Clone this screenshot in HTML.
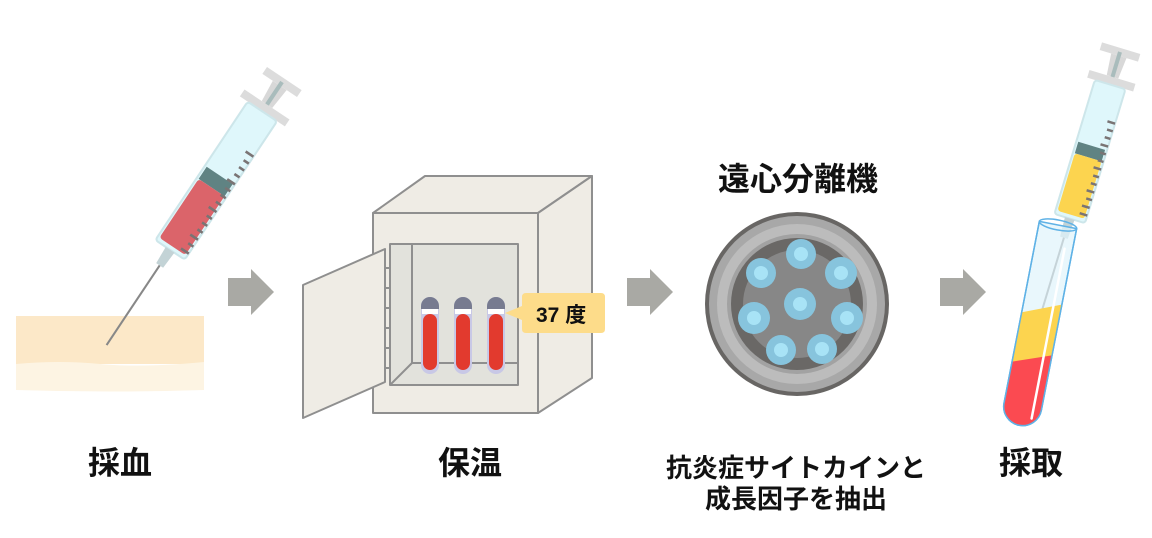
<!DOCTYPE html>
<html><head><meta charset="utf-8"><style>
body{margin:0;background:#fff;}
svg{display:block;}
text{font-family:"Liberation Sans","Noto Sans CJK JP",sans-serif;fill:#111;}
</style></head><body>
<svg width="1152" height="538" viewBox="0 0 1152 538">
<!-- skin -->
<rect x="16" y="316" width="188" height="48" fill="#fce8c8"/>
<path d="M16 364 Q60 360 100 364 T204 362 L204 390 Q110 393 16 390Z" fill="#fdf4e3"/>
<!-- syringe 1 -->
<g transform="translate(282,82) rotate(33.7) scale(1.04)">
<rect x="-20" y="-4" width="40" height="8" fill="#dcdcdc"/>
<polygon points="-8,4 8,4 6,26 -6,26" fill="#d8d8d8"/>
<rect x="-2" y="0" width="4" height="120" fill="#a9bcbc"/>
<rect x="-26" y="26" width="52" height="8" fill="#dcdcdc"/>
<rect x="-17" y="34" width="34" height="160" rx="3" fill="#dff7fb" stroke="#cde6ea" stroke-width="2"/>
<rect x="-15" y="108" width="30" height="14" fill="#608383"/>
<rect x="-15" y="122" width="30" height="68" rx="3" fill="#db646a"/>
<g stroke="#7a7474" stroke-width="2.5">
<line x1="8" y1="75" x2="17" y2="75"/><line x1="11" y1="83" x2="17" y2="83"/><line x1="11" y1="91" x2="17" y2="91"/><line x1="11" y1="99" x2="17" y2="99"/><line x1="8" y1="107" x2="17" y2="107"/><line x1="11" y1="115" x2="17" y2="115"/><line x1="11" y1="123" x2="17" y2="123"/><line x1="11" y1="131" x2="17" y2="131"/><line x1="8" y1="139" x2="17" y2="139"/><line x1="11" y1="147" x2="17" y2="147"/><line x1="11" y1="155" x2="17" y2="155"/><line x1="11" y1="163" x2="17" y2="163"/><line x1="8" y1="171" x2="17" y2="171"/><line x1="11" y1="179" x2="17" y2="179"/><line x1="8" y1="187" x2="17" y2="187"/>
</g>
<polygon points="-5,194 5,194 4,212 -4,212" fill="#c3d3d6"/>
<line x1="0" y1="212" x2="0" y2="304" stroke="#888" stroke-width="2"/>
</g>
<!-- arrows -->
<g fill="#a9a9a4">
<polygon points="228,278 251,278 251,269 274,292 251,315 251,306 228,306"/>
<polygon points="627,278 650,278 650,269 673,292 650,315 650,306 627,306"/>
<polygon points="940,278 963,278 963,269 986,292 963,315 963,306 940,306"/>
</g>
<!-- incubator -->
<g stroke="#8f8f8f" stroke-width="2" stroke-linejoin="round">
<polygon points="373,213 425,176 592,176 538,213" fill="#efece5"/>
<polygon points="538,213 592,176 592,378 538,413" fill="#efece5"/>
<rect x="373" y="213" width="165" height="200" fill="#efece5"/>
<rect x="390" y="244" width="128" height="141" fill="#e2e2dc"/>
<polyline points="412,244 412,363 518,363" fill="none"/>
<line x1="412" y1="363" x2="390" y2="385"/>
<polygon points="303,285 385,249 385,382 303,418" fill="#efece5"/>
</g>
<g stroke="#8f8f8f" stroke-width="2"><line x1="385" y1="268" x2="390" y2="268"/><line x1="385" y1="288" x2="390" y2="288"/><line x1="385" y1="308" x2="390" y2="308"/><line x1="385" y1="328" x2="390" y2="328"/><line x1="385" y1="348" x2="390" y2="348"/><line x1="385" y1="368" x2="390" y2="368"/></g>
<g>
<g transform="translate(421,297)"><rect x="0" y="0" width="18" height="77" rx="9" fill="#c8c8e6"/><path d="M0 9 A9 9 0 0 1 18 9 V12 H0Z" fill="#777b90"/><rect x="1" y="12" width="16" height="5" fill="#fff"/><rect x="2" y="17" width="14" height="56" rx="7" fill="#e23a2e"/></g>
<g transform="translate(454,297)"><rect x="0" y="0" width="18" height="77" rx="9" fill="#c8c8e6"/><path d="M0 9 A9 9 0 0 1 18 9 V12 H0Z" fill="#777b90"/><rect x="1" y="12" width="16" height="5" fill="#fff"/><rect x="2" y="17" width="14" height="56" rx="7" fill="#e23a2e"/></g>
<g transform="translate(487,297)"><rect x="0" y="0" width="18" height="77" rx="9" fill="#c8c8e6"/><path d="M0 9 A9 9 0 0 1 18 9 V12 H0Z" fill="#777b90"/><rect x="1" y="12" width="16" height="5" fill="#fff"/><rect x="2" y="17" width="14" height="56" rx="7" fill="#e23a2e"/></g>
</g>
<path d="M526 293 H601 Q605 293 605 297 V329 Q605 333 601 333 H526 Q522 333 522 329 V320 L505 313 L522 306 V297 Q522 293 526 293Z" fill="#fddc8a"/>
<text x="536" y="322" font-size="21" font-weight="bold">37 度</text>
<!-- centrifuge -->
<circle cx="797" cy="304" r="92" fill="#686664"/>
<circle cx="797" cy="304" r="88" fill="#a8a8a8"/>
<circle cx="797" cy="304" r="80" fill="#bcbcbc"/>
<circle cx="797" cy="304" r="70" fill="#a2a2a2"/>
<circle cx="797" cy="304" r="66" fill="#6a6866"/>
<circle cx="797" cy="304" r="54" fill="#878787"/>
<g fill="#87c4dd">
<circle cx="801" cy="254" r="15"/><circle cx="761" cy="273" r="15"/><circle cx="841" cy="273" r="16"/><circle cx="800" cy="304" r="16"/><circle cx="754" cy="318" r="16"/><circle cx="847" cy="318" r="16"/><circle cx="781" cy="350" r="15"/><circle cx="822" cy="349" r="15"/>
</g>
<g fill="#a8e3f6">
<circle cx="801" cy="254" r="7"/><circle cx="761" cy="273" r="7"/><circle cx="841" cy="273" r="7"/><circle cx="800" cy="304" r="7"/><circle cx="754" cy="318" r="7"/><circle cx="847" cy="318" r="7"/><circle cx="781" cy="350" r="7"/><circle cx="822" cy="349" r="7"/>
</g>
<!-- syringe 2 -->
<g transform="translate(1120,52) rotate(16.8)">
<rect x="-20" y="-4" width="40" height="8" fill="#dcdcdc"/>
<polygon points="-8,4 8,4 6,26 -6,26" fill="#d8d8d8"/>
<rect x="-2" y="0" width="4" height="100" fill="#a9bcbc"/>
<rect x="-24" y="26" width="48" height="8" fill="#dcdcdc"/>
<rect x="-16" y="34" width="32" height="140" rx="3" fill="#dff7fb" stroke="#cde6ea" stroke-width="2"/>
<rect x="-14" y="98" width="28" height="12" fill="#608383"/>
<rect x="-14" y="110" width="28" height="60" rx="3" fill="#fcd44f"/>
<g stroke="#7a7474" stroke-width="2.5">
<line x1="8" y1="70" x2="16" y2="70"/><line x1="10" y1="78" x2="16" y2="78"/><line x1="10" y1="86" x2="16" y2="86"/><line x1="8" y1="94" x2="16" y2="94"/><line x1="10" y1="102" x2="16" y2="102"/><line x1="10" y1="110" x2="16" y2="110"/><line x1="8" y1="118" x2="16" y2="118"/><line x1="10" y1="126" x2="16" y2="126"/><line x1="10" y1="134" x2="16" y2="134"/><line x1="8" y1="142" x2="16" y2="142"/><line x1="10" y1="150" x2="16" y2="150"/><line x1="8" y1="158" x2="16" y2="158"/><line x1="8" y1="166" x2="16" y2="166"/>
</g>
<polygon points="-5,174 5,174 4,194 -4,194" fill="#c3d3d6"/>
<line x1="0" y1="194" x2="0" y2="277" stroke="#888" stroke-width="2"/>
</g>
<!-- tube -->
<g transform="translate(1058,225) rotate(11)">
<defs><clipPath id="tc"><path d="M-19 0 V185 A19 19 0 0 0 19 185 V0Z"/></clipPath></defs>
<path d="M-19 0 V185 A19 19 0 0 0 19 185 V0Z" fill="#dff4fb" fill-opacity="0.7" stroke="#5fb2e6" stroke-width="1.5"/>
<g clip-path="url(#tc)">
<polygon points="-25,95 25,75 25,260 -25,260" fill="#fcd44f"/>
<polygon points="-25,145 25,127 25,260 -25,260" fill="#fb4a51"/>
</g>
<path d="M-19 0 V185 A19 19 0 0 0 19 185 V0" fill="none" stroke="#5fb2e6" stroke-width="1.5"/>
<ellipse cx="0" cy="0" rx="19" ry="5" fill="none" stroke="#5fb2e6" stroke-width="1.5"/>
<line x1="11" y1="22" x2="11" y2="195" stroke="#fff" stroke-width="2.5" stroke-linecap="round"/>
</g>
<!-- labels -->
<text x="120" y="474" font-size="32" font-weight="bold" text-anchor="middle">採血</text>
<text x="470" y="474" font-size="32" font-weight="bold" text-anchor="middle">保温</text>
<text x="798" y="190" font-size="32" font-weight="bold" text-anchor="middle">遠心分離機</text>
<text x="796" y="477" font-size="26" font-weight="bold" text-anchor="middle">抗炎症サイトカインと</text>
<text x="796" y="508" font-size="26" font-weight="bold" text-anchor="middle">成長因子を抽出</text>
<text x="1031" y="474" font-size="32" font-weight="bold" text-anchor="middle">採取</text>
</svg>
</body></html>
